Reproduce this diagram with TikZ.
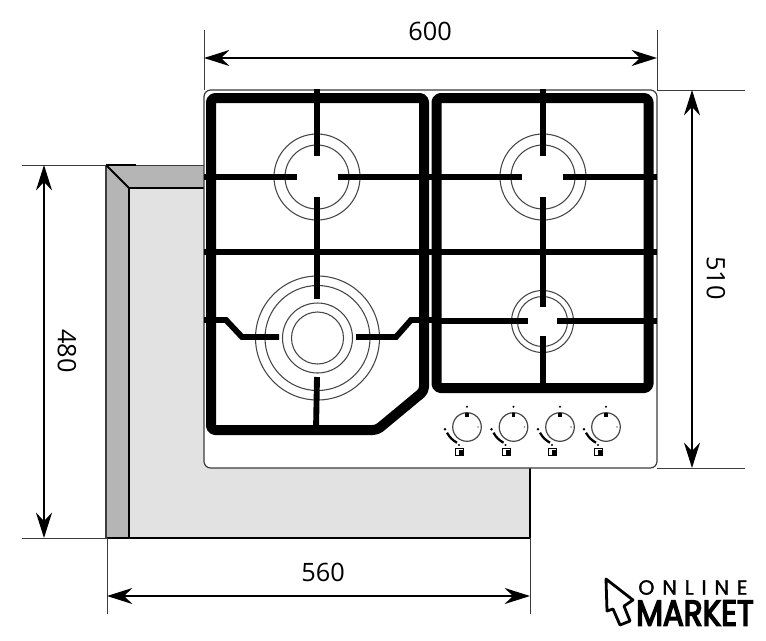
\documentclass[tikz,border=0pt]{standalone}
\usepackage{fontspec}
\setmainfont{Open Sans}
\newfontfamily\logofont[FakeStretch=0.86,FakeBold=4]{Poppins}
\newfontfamily\logothin[LetterSpace=38,FakeBold=1.5]{Poppins}
\usetikzlibrary{arrows.meta}
\definecolor{bandgray}{RGB}{181,181,181}
\definecolor{basegray}{RGB}{226,226,226}
\definecolor{ringgray}{RGB}{70,70,70}
\definecolor{dimgray}{RGB}{60,60,60}
\tikzstyle{grate} = [black, line width=7.5pt, line join=round, rounded corners=3pt]
\tikzstyle{bar} = [black, line width=4.4pt]
\tikzstyle{ring} = [ringgray, line width=0.8pt]
\tikzstyle{extline} = [dimgray, line width=0.6pt]
\tikzstyle{dimline} = [black, line width=1pt, {Stealth[length=19pt,width=12pt]}-{Stealth[length=19pt,width=12pt]}]
\tikzstyle{dimlabel} = [font=\fontsize{19}{19}\selectfont, inner sep=0pt]
\begin{document}
\begin{tikzpicture}[x=0.75pt, y=-0.75pt]
\useasboundingbox (0,0) rectangle (766,640);

% Base under the hob
\fill[basegray] (129,188) rectangle (530,538);
\fill[bandgray] (106,165) -- (204,165) -- (204,188) -- (129,188) -- (129,538) -- (106,538) -- cycle;
\draw[dimgray, line width=0.8pt] (106,165) -- (106,538);
\draw[black, line width=1.8pt] (129,538) -- (129,188) -- (204,188);
\draw[black, line width=1.5pt] (106,165) -- (129,188);
\draw[black, line width=1.5pt] (107,538) -- (530,538) -- (530,468);

% Hob panel
\draw[dimgray, fill=white, line width=0.9pt, rounded corners=5pt] (204,90) rectangle (657,468);

% Burner rings
\draw[ring] (317,177) circle[radius=43];
\draw[ring] (317,177) circle[radius=32];
\draw[ring] (543,177) circle[radius=43];
\draw[ring] (543,177) circle[radius=32];
\draw[ring] (317.5,338) circle[radius=62];
\draw[ring] (317.5,338) circle[radius=52.5];
\draw[ring] (317.5,338) circle[radius=35];
\draw[ring] (317.5,338) circle[radius=26];
\draw[ring] (542.5,321.5) circle[radius=31];
\draw[ring] (542.5,321.5) circle[radius=25];

% Left grate
\draw[grate] (211,98) -- (424,98) -- (424,391) -- (377,430) -- (211,430) -- cycle;
\draw[bar] (317,89) -- (317,156);
\draw[bar] (317,197) -- (317,299);
\draw[bar] (317,377) -- (316,430);
\draw[bar] (204,177) -- (297,177);
\draw[bar] (338,177) -- (432,177);
\draw[bar] (204,252) -- (432,252);
\draw[bar] (204,320) -- (226,320) -- (242,337) -- (279,337);
\draw[bar] (356,337) -- (396,337) -- (411,320) -- (432,320);

% Right grate
\draw[grate] (436.5,98) -- (648.5,98) -- (648.5,388) -- (436.5,388) -- cycle;
\draw[bar] (543,89) -- (543,156);
\draw[bar] (543,197) -- (543,307);
\draw[bar] (543,336) -- (543,388);
\draw[bar] (432,177) -- (522,177);
\draw[bar] (563,177) -- (657,177);
\draw[bar] (432,252) -- (657,252);
\draw[bar] (432,321) -- (528,321);
\draw[bar] (557,321) -- (657,321);

% Knobs
\foreach \kx in {467,513.5,560,606} {
    \draw[ringgray, line width=0.9pt] (\kx,427) circle[radius=14.3];
    \draw[black, line width=2.6pt] (\kx,413) -- (\kx,417);
    \fill[black] (\kx,406.7) circle[radius=1.2];
    \fill[gray] (\kx+11,427) circle[radius=0.8];
    \fill[black] (\kx-22,429.3) circle[radius=1.4];
    \fill[black] (\kx-8,445) circle[radius=1.2];
    \draw[black, line width=1.7pt] (\kx-20,432.7) to[bend right=15] (\kx-10,442.7);
    \draw[black, line width=0.6pt] (\kx-11.5,448) rectangle (\kx-3.5,455);
    \fill[black] (\kx-8,450) rectangle (\kx-3.5,455);
}

% Extension lines
\draw[extline] (204,30) -- (204,90);
\draw[extline] (657,30) -- (657,90);
\draw[extline] (657,90) -- (745,90);
\draw[extline] (657,468) -- (745,468);
\draw[extline] (22,165) -- (204,165);
\draw[black, line width=0.9pt] (106,165) -- (136,165);
\draw[extline] (22,538) -- (107,538);
\draw[extline] (107,538) -- (107,614);
\draw[extline] (530,538) -- (530,614);

% Dimensions
\coordinate (widthl) at (204,58);
\coordinate (widthr) at (657,58);
\coordinate (deptht) at (692,90);
\coordinate (depthb) at (692,468);
\coordinate (baset) at (44,165);
\coordinate (baseb) at (44,538);
\coordinate (basel) at (107,596);
\coordinate (baser) at (530,596);
\draw[dimline] (widthl) -- (widthr);
\draw[dimline] (deptht) -- (depthb);
\draw[dimline] (baset) -- (baseb);
\draw[dimline] (basel) -- (baser);
\node[dimlabel] (widthtext) at (430,31) {600};
\node[dimlabel, rotate=-90] (depthtext) at (716,278) {510};
\node[dimlabel, rotate=-90] (basetext) at (67,351) {480};
\node[dimlabel] (baselentext) at (323,572) {560};

% Logo
\draw[black, fill=white, line width=2.1pt, line join=round] (606,579) -- (633,600) -- (624,606) -- (630,621) -- (620,625) -- (613,609) -- (607,611) -- cycle;
\node[inner sep=0pt, anchor=west, font=\logothin\fontsize{15.5}{16}\selectfont] (online) at (638,587.5) {ONLINE};
\node[inner sep=0pt, anchor=west, font=\logofont\fontsize{27}{27}\selectfont] (market) at (636,613) {MARKET};
\end{tikzpicture}
\end{document}
